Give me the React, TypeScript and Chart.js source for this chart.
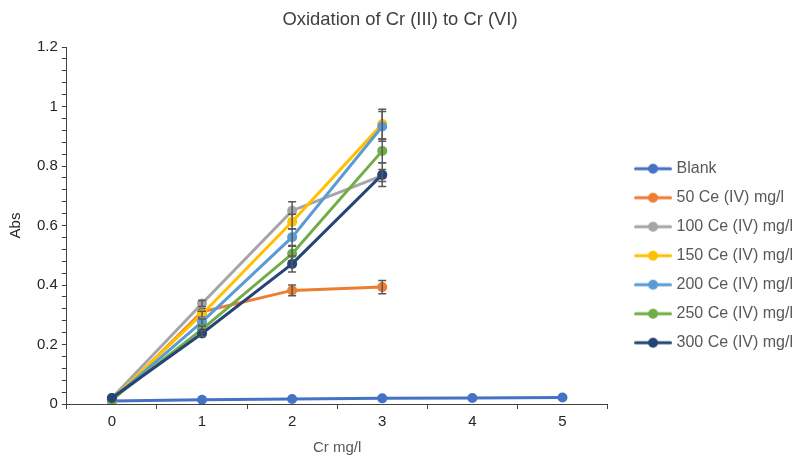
import React, { useEffect, useRef } from 'react';
import { Chart, registerables } from 'chart.js';

Chart.register(...registerables);

const categories = ['0', '1', '2', '3', '4', '5'];
const seriesNames = [
  'Blank',
  '50 Ce (IV) mg/l',
  '100 Ce (IV) mg/l',
  '150 Ce (IV) mg/l',
  '200 Ce (IV) mg/l',
  '250 Ce (IV) mg/l',
  '300 Ce (IV) mg/l',
];
const seriesColors = ['#4472C4', '#ED7D31', '#A5A5A5', '#FFC000', '#5B9BD5', '#70AD47', '#264478'];

const blank = [0.01, 0.014, 0.017, 0.019, 0.02, 0.022];
const ce50 = [0.01, 0.31, 0.382, 0.393];
const ce100 = [0.02, 0.338, 0.65, 0.768];
const ce150 = [0.015, 0.302, 0.613, 0.941];
const ce200 = [0.015, 0.276, 0.561, 0.933];
const ce250 = [0.015, 0.251, 0.505, 0.851];
const ce300 = [0.02, 0.237, 0.471, 0.771];

const errBlank = [0, 0, 0, 0, 0, 0];
const err50 = [0, 0.01, 0.018, 0.022];
const err100 = [0, 0.01, 0.03, 0.02];
const err150 = [0, 0.01, 0.025, 0.05];
const err200 = [0, 0.01, 0.028, 0.05];
const err250 = [0, 0.01, 0.025, 0.04];
const err300 = [0, 0.01, 0.027, 0.04];

const seriesValues = [blank, ce50, ce100, ce150, ce200, ce250, ce300];
const seriesErrors = [errBlank, err50, err100, err150, err200, err250, err300];

const FONT = "'Liberation Sans', Arial, sans-serif";

function legendIcon(color: string): HTMLCanvasElement {
  const c = document.createElement('canvas');
  c.width = 55;
  c.height = 12;
  const ctx = c.getContext('2d')!;
  ctx.strokeStyle = color;
  ctx.lineWidth = 3;
  ctx.lineCap = 'round';
  ctx.beginPath();
  ctx.moveTo(18.5, 6);
  ctx.lineTo(53.5, 6);
  ctx.stroke();
  ctx.fillStyle = color;
  ctx.beginPath();
  ctx.arc(36, 6, 5, 0, Math.PI * 2);
  ctx.fill();
  return c;
}

const errorBarPlugin = {
  id: 'errorBars',
  afterDatasetDraw(chart: any, args: any) {
    const idx = args.index;
    const errs = seriesErrors[idx];
    const vals = seriesValues[idx];
    if (!errs) return;
    const yScale = chart.scales.y;
    const ctx = chart.ctx;
    ctx.save();
    ctx.strokeStyle = '#595959';
    ctx.lineWidth = 1.5;
    args.meta.data.forEach((pt: any, i: number) => {
      const e = errs[i];
      const v = vals[i];
      if (!e || v == null) return;
      const x = pt.x;
      const yTop = yScale.getPixelForValue(v + e);
      const yBot = yScale.getPixelForValue(v - e);
      ctx.beginPath();
      ctx.moveTo(x, yTop);
      ctx.lineTo(x, yBot);
      ctx.moveTo(x - 4, yTop);
      ctx.lineTo(x + 4, yTop);
      ctx.moveTo(x - 4, yBot);
      ctx.lineTo(x + 4, yBot);
      ctx.stroke();
    });
    ctx.restore();
  },
};

export default function App() {
  const ref = useRef<HTMLCanvasElement | null>(null);

  useEffect(() => {
    document.body.style.margin = '0';
    if (!ref.current) return;
    const icons = seriesColors.map(legendIcon);
    const n = seriesNames.length;
    const chart = new Chart(ref.current, {
      type: 'line',
      data: {
        labels: categories,
        datasets: seriesNames.map((name, i) => ({
          label: name,
          data: seriesValues[i],
          borderColor: seriesColors[i],
          backgroundColor: seriesColors[i],
          borderWidth: 3,
          pointRadius: 5,
          pointHoverRadius: 5,
          pointBorderWidth: 0,
          tension: 0,
          order: n - i,
        })),
      },
      options: {
        animation: false,
        responsive: false,
        maintainAspectRatio: false,
        layout: { padding: { left: -3, right: -8, top: 0, bottom: 0 } },
        plugins: {
          tooltip: { enabled: false },
          title: {
            display: true,
            text: 'Oxidation of Cr (III) to Cr (VI)',
            color: '#404040',
            font: { family: FONT, size: 18.4, weight: 'normal' },
            padding: { top: 9, bottom: 16 },
          },
          legend: {
            position: 'right',
            title: {
              display: true,
              text: ' ',
              font: { family: FONT, size: 2 },
              padding: { top: 26, bottom: 26 },
            },
            labels: {
              color: '#595959',
              font: { family: FONT, size: 16 },
              usePointStyle: true,
              pointStyleWidth: 48,
              padding: 13,
              generateLabels: () =>
                seriesNames.map((name, i) => ({
                  text: name,
                  fillStyle: seriesColors[i],
                  strokeStyle: seriesColors[i],
                  fontColor: '#595959',
                  pointStyle: icons[i],
                  lineWidth: 0,
                  hidden: false,
                  datasetIndex: i,
                })),
            },
          },
        },
        scales: {
          x: {
            type: 'category',
            offset: true,
            grid: {
              offset: true,
              drawOnChartArea: false,
              drawTicks: true,
              tickLength: 5,
              tickColor: '#404040',
            },
            border: { color: '#404040', width: 1 },
            ticks: {
              color: '#262626',
              font: { family: FONT, size: 15 },
              padding: 4,
            },
            title: {
              display: true,
              text: 'Cr mg/l',
              color: '#595959',
              font: { family: FONT, size: 15 },
              padding: { top: 4, bottom: 0 },
            },
          },
          y: {
            min: 0,
            max: 1.2,
            grid: {
              drawOnChartArea: false,
              drawTicks: true,
              tickLength: 5,
              tickColor: '#404040',
            },
            border: { color: '#404040', width: 1 },
            ticks: {
              stepSize: 0.04,
              autoSkip: false,
              color: '#262626',
              font: { family: FONT, size: 15 },
              padding: 4,
              callback: (value: any) => {
                const k = Math.round(Number(value) * 100);
                if (k % 20 !== 0) return '';
                return String(k / 100);
              },
            },
            title: {
              display: true,
              text: 'Abs',
              color: '#262626',
              font: { family: FONT, size: 15 },
              padding: { top: 10, bottom: 8 },
            },
          },
        },
      },
      plugins: [errorBarPlugin],
    });
    return () => chart.destroy();
  }, []);

  return (
    <div style={{ width: 795, height: 457 }}>
      <canvas ref={ref} width={795} height={457} style={{ display: 'block' }} />
    </div>
  );
}
